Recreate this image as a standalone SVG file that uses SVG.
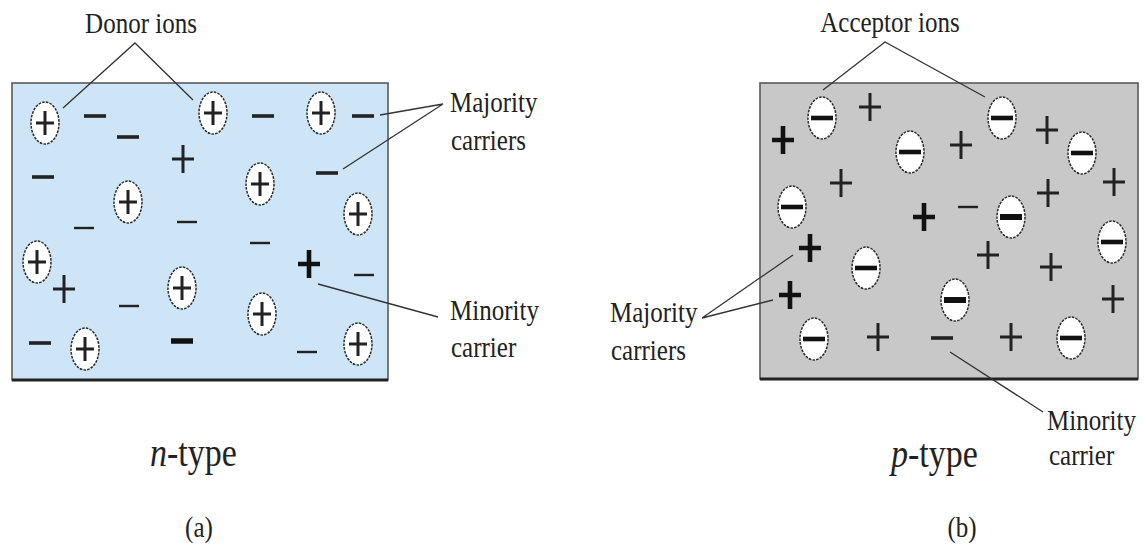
<svg xmlns="http://www.w3.org/2000/svg" xmlns:xlink="http://www.w3.org/1999/xlink" width="1145" height="552" viewBox="0 0 1145 552">
<style>
.box{stroke:#5a5a5a;stroke-width:1.6}
.base{stroke:#222;stroke-width:3}
.ion{fill:#fff;stroke:#2a2a2a;stroke-width:1.5;stroke-dasharray:2.6 1.2}
.sg{stroke:#222;stroke-width:3;fill:none}
.sgt{stroke:#222;stroke-width:2.4;fill:none}
.sgb{stroke:#111;stroke-width:4.6;fill:none}
.lead{stroke:#333;stroke-width:1.3;fill:none}
.t{font-family:"Liberation Serif","Times New Roman",serif;font-size:25px;fill:#222}
.big{font-size:34px}
</style>
<defs>
<g id="ionP"><ellipse rx="14" ry="21" class="ion"/><path d="M-9,0H9M0,-12V12" class="sg"/></g>
<g id="ionM"><ellipse rx="14" ry="21" class="ion"/><path d="M-11,0H11" class="sgb"/></g>
<g id="ionMb"><ellipse rx="14" ry="21" class="ion"/><path d="M-11,0H11" class="sgb" style="stroke-width:6"/></g>
<g id="pl"><path d="M-11,0H11M0,-14V14" class="sg"/></g>
<g id="plb"><path d="M-11,0H11M0,-14V14" class="sgb"/></g>
<g id="mi"><path d="M-11,0H11" class="sg" style="stroke-width:3.6"/></g>
<g id="mit"><path d="M-10,0H10" class="sgt"/></g>
<g id="mib"><path d="M-11,0H11" class="sgb" style="stroke-width:5.5"/></g>
</defs>
<rect width="1145" height="552" fill="#fff"/>

<g id="n-type-box">
<rect x="12" y="83" width="376" height="297" fill="#cde5f7" class="box"/>
<path d="M12,380H388" class="base"/>
</g>
<g id="donor-ions">
<use href="#ionP" x="45" y="123"/><use href="#ionP" x="213" y="113"/><use href="#ionP" x="321" y="113"/>
<use href="#ionP" x="260" y="184"/><use href="#ionP" x="128" y="202"/><use href="#ionP" x="358" y="214"/>
<use href="#ionP" x="37" y="262"/><use href="#ionP" x="182" y="288"/><use href="#ionP" x="262" y="314"/>
<use href="#ionP" x="85" y="349"/><use href="#ionP" x="358" y="344"/>
</g>
<g id="n-electrons">
<use href="#mi" x="95" y="116"/><use href="#mi" x="128" y="137"/><use href="#mi" x="263" y="116"/>
<use href="#mi" x="363" y="116"/><use href="#mi" x="43" y="177"/><use href="#mi" x="327" y="173"/>
<use href="#mit" x="84" y="228"/><use href="#mit" x="187" y="222"/><use href="#mit" x="260" y="243"/>
<use href="#mit" x="364" y="275"/><use href="#mit" x="129" y="306"/><use href="#mi" x="40" y="343"/>
<use href="#mib" x="182" y="341"/><use href="#mit" x="307" y="352"/>
</g>
<g id="n-holes">
<use href="#pl" x="183" y="159"/><use href="#pl" x="64" y="289"/><use href="#plb" x="309" y="264"/>
</g>

<g id="p-type-box">
<rect x="760" y="83" width="378" height="296" fill="#c8c8c8" class="box"/>
<path d="M760,379H1138" class="base"/>
</g>
<g id="acceptor-ions">
<use href="#ionM" x="822" y="118"/><use href="#ionM" x="1002" y="118"/><use href="#ionM" x="910" y="152"/>
<use href="#ionM" x="1082" y="153"/><use href="#ionM" x="792" y="207"/><use href="#ionMb" x="1011" y="217"/>
<use href="#ionM" x="1112" y="242"/><use href="#ionM" x="866" y="268"/><use href="#ionMb" x="955" y="300"/>
<use href="#ionM" x="814" y="339"/><use href="#ionM" x="1071" y="338"/>
</g>
<g id="p-holes">
<use href="#pl" x="870" y="107"/><use href="#plb" x="783" y="140"/><use href="#pl" x="961" y="145"/>
<use href="#pl" x="1047" y="130"/><use href="#pl" x="841" y="183"/><use href="#pl" x="1114" y="182"/>
<use href="#pl" x="1048" y="193"/><use href="#plb" x="924" y="217"/><use href="#plb" x="810" y="248"/>
<use href="#plb" x="790" y="295"/><use href="#pl" x="988" y="255"/><use href="#pl" x="1051" y="267"/>
<use href="#pl" x="1113" y="299"/><use href="#pl" x="878" y="337"/><use href="#pl" x="1011" y="337"/>
</g>
<g id="p-electrons">
<use href="#mit" x="968" y="207"/><use href="#mi" x="942" y="338"/>
</g>

<g id="connectors">
<path d="M63,108L135,43L193,100" class="lead"/>
<path d="M380,115L443,104M343,169L443,104" class="lead"/>
<path d="M318,284L438,317" class="lead"/>
<path d="M823,90L885,42L985,97" class="lead"/>
<path d="M793,255L702,318M773,300L702,318" class="lead"/>
<path d="M950,352L1043,412" class="lead"/>
</g>

<g id="labels">
<text class="t" text-anchor="middle" transform="translate(141,33) scale(1,1.2)">Donor ions</text>
<text class="t" transform="translate(450,112) scale(1,1.2)">Majority</text>
<text class="t" transform="translate(451,150) scale(1,1.2)">carriers</text>
<text class="t" transform="translate(450,320) scale(1,1.2)">Minority</text>
<text class="t" transform="translate(451,357) scale(1,1.2)">carrier</text>
<text class="t big" transform="translate(150,466) scale(1,1.2)"><tspan font-style="italic">n</tspan>-type</text>
<text class="t" text-anchor="middle" transform="translate(199,537) scale(1,1.2)">(a)</text>
<text class="t" text-anchor="middle" transform="translate(890,32) scale(1,1.2)">Acceptor ions</text>
<text class="t" transform="translate(610,322) scale(1,1.2)">Majority</text>
<text class="t" transform="translate(611,360) scale(1,1.2)">carriers</text>
<text class="t" transform="translate(1047,430) scale(1,1.2)">Minority</text>
<text class="t" transform="translate(1049,465) scale(1,1.2)">carrier</text>
<text class="t big" transform="translate(891,467) scale(1,1.2)"><tspan font-style="italic">p</tspan>-type</text>
<text class="t" text-anchor="middle" transform="translate(962,537) scale(1,1.2)">(b)</text>
</g>
</svg>
